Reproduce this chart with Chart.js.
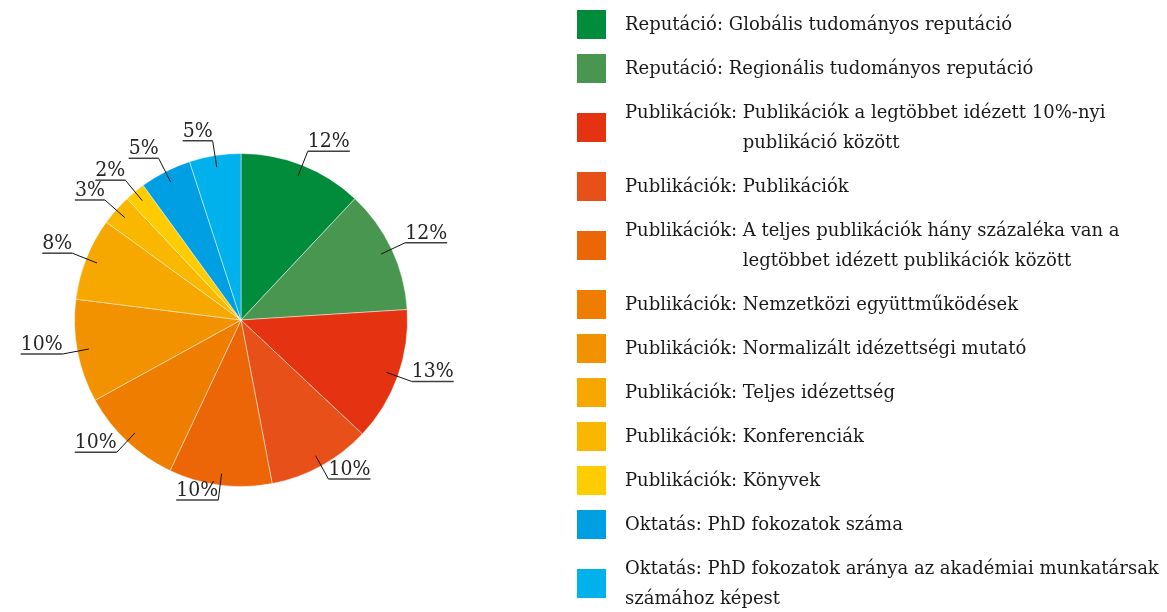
<!DOCTYPE html>
<html>
<head>
<meta charset="utf-8">
<script src="https://cdn.jsdelivr.net/npm/chart.js@4.4.1/dist/chart.umd.min.js"></script>
<style>
  html, body { margin: 0; padding: 0; background: #fff; }
  #wrap { position: relative; width: 1167px; height: 612px; overflow: hidden; }
  #chart { position: absolute; left: 0; top: 0; }
  #legend {
    position: absolute; left: 577px; top: 9px;
    font-family: "DejaVu Serif", serif;
    font-size: 18px; color: #1a1a1a;
  }
  .item { display: flex; align-items: center; margin-bottom: 14px; }
  .box { width: 29px; height: 29px; flex: none; margin-right: 19px; }
  .txt { line-height: 30px; white-space: nowrap; }
  .txt span { display: inline-block; vertical-align: top; }
</style>
</head>
<body>
<div id="wrap">
  <canvas id="chart" width="1167" height="612"></canvas>
  <div id="legend"></div>
</div>
<script>
const groups = [
  "Reputáció", "Reputáció",
  "Publikációk", "Publikációk", "Publikációk", "Publikációk",
  "Publikációk", "Publikációk", "Publikációk", "Publikációk",
  "Oktatás", "Oktatás"
];
const names = [
  ["Globális tudományos reputáció"],
  ["Regionális tudományos reputáció"],
  ["Publikációk a legtöbbet idézett 10%-nyi", "publikáció között"],
  ["Publikációk"],
  ["A teljes publikációk hány százaléka van a", "legtöbbet idézett publikációk között"],
  ["Nemzetközi együttműködések"],
  ["Normalizált idézettségi mutató"],
  ["Teljes idézettség"],
  ["Konferenciák"],
  ["Könyvek"],
  ["PhD fokozatok száma"],
  ["PhD fokozatok aránya az akadémiai munkatársak", "számához képest"]
];
const shares = [12, 12, 13, 10, 10, 10, 10, 8, 3, 2, 5, 5];
const colors = [
  "#008C3A", "#48964F", "#E53312", "#E8501A", "#EC6608", "#EF7D00",
  "#F39200", "#F6A800", "#F9B700", "#FFCC00", "#009FE3", "#00B1EB"
];
// wrapped lines of Publikációk items hang under the name, Oktatás wraps flush
const hangIndent = groups.map(g => g === "Publikációk");

const labels = groups.map((g, i) => g + ": " + names[i].join(" "));
const total = shares.reduce((a, b) => a + b, 0);

const pctLabels = {
  id: "pctLabels",
  afterDatasetsDraw(chart) {
    const ctx = chart.ctx;
    const meta = chart.getDatasetMeta(0);
    ctx.save();
    ctx.font = '21px "DejaVu Serif Condensed", "DejaVu Serif", serif';
    meta.data.forEach((arc, i) => {
      const { x, y, startAngle, endAngle, outerRadius } =
        arc.getProps(["x", "y", "startAngle", "endAngle", "outerRadius"], true);
      const mid = (startAngle + endAngle) / 2;
      const cos = Math.cos(mid), sin = Math.sin(mid);
      const x1 = x + cos * outerRadius * 0.93, y1 = y + sin * outerRadius * 0.93;
      const x2 = x + cos * outerRadius * 1.09, y2 = y + sin * outerRadius * 1.09;
      const text = Math.round(shares[i] / total * 100) + "%";
      const w = ctx.measureText(text).width;
      const x3 = cos >= 0 ? x2 + w : x2 - w;

      ctx.strokeStyle = "#111";
      ctx.lineWidth = 1;
      ctx.beginPath(); ctx.moveTo(x1, y1); ctx.lineTo(x2, y2); ctx.stroke();

      ctx.strokeStyle = "#404040";
      ctx.lineWidth = 1.5;
      ctx.beginPath(); ctx.moveTo(x2, y2); ctx.lineTo(x3, y2); ctx.stroke();

      ctx.fillStyle = "#262626";
      ctx.textAlign = "left";
      ctx.textBaseline = "alphabetic";
      ctx.fillText(text, Math.min(x2, x3), y2 - 4);
    });
    ctx.restore();
  }
};

new Chart(document.getElementById("chart"), {
  type: "pie",
  data: {
    labels,
    datasets: [{
      data: shares,
      backgroundColor: colors,
      borderColor: "rgba(255,255,255,0.45)",
      borderWidth: 1
    }]
  },
  options: {
    responsive: false,
    animation: false,
    layout: { padding: { left: 74, top: 153, right: 759, bottom: 125 } },
    plugins: {
      legend: { display: false },
      tooltip: { enabled: false }
    }
  },
  plugins: [pctLabels]
});

document.getElementById("legend").innerHTML = groups.map((g, i) => {
  const lines = names[i];
  let body;
  if (hangIndent[i]) {
    body = `<span>${g}:&nbsp;</span><span>${lines.join("<br>")}</span>`;
  } else {
    body = `${g}: ${lines.join("<br>")}`;
  }
  return `<div class="item"><div class="box" style="background:${colors[i]}"></div><div class="txt">${body}</div></div>`;
}).join("");
</script>
</body>
</html>
